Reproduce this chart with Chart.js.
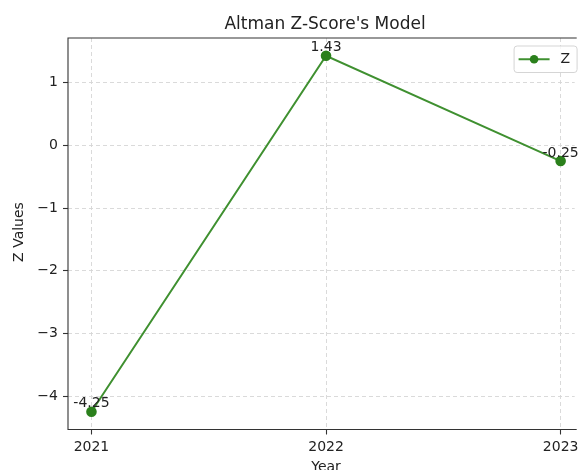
<!DOCTYPE html>
<html>
<head>
<meta charset="utf-8">
<script src="https://cdn.jsdelivr.net/npm/chart.js@4"></script>
<style>
    html, body { margin: 0; padding: 0; overflow: hidden; background: #fff; }
</style>
</head>
<body>
<canvas id="z-chart" width="581" height="470"></canvas>
<script>
// ===== DATA =====
const years = [2021, 2022, 2023];
const zValues = [-4.25, 1.43, -0.25];
const yTicks = [-4, -3, -2, -1, 0, 1];
const seriesLabel = 'Z';
const chartTitle = "Altman Z-Score's Model";
const xTitle = 'Year';
const yTitle = 'Z Values';

const FONT = "'DejaVu Sans', sans-serif";
const LINE_COLOR = '#3f9030';
const MARKER_COLOR = '#2b801c';

// matplotlib-like 5% margins; the full axes run to 2023.1 but the
// window crops them a little before that, so the scale stops at the crop
const yMin = -4.534, yMax = 1.714;
const xMin = 2020.9, xFullMax = 2023.1, xMax = 2023.06;

const extrasPlugin = {
    id: 'extras',
    afterDraw(chart) {
        const ctx = chart.ctx;
        const area = chart.chartArea;
        const xs = chart.scales.x;
        const meta = chart.getDatasetMeta(0);
        const midX = xs.getPixelForValue((xMin + xFullMax) / 2);
        const fullRight = xs.getPixelForValue(xFullMax);
        ctx.save();

        // spines: top, left, bottom
        ctx.strokeStyle = '#333';
        ctx.lineWidth = 1.1;
        ctx.beginPath();
        ctx.moveTo(area.right + 2, area.top);
        ctx.lineTo(area.left, area.top);
        ctx.lineTo(area.left, area.bottom);
        ctx.lineTo(area.right + 2, area.bottom);
        ctx.stroke();

        // title
        ctx.fillStyle = '#222';
        ctx.font = `17px ${FONT}`;
        ctx.textAlign = 'center';
        ctx.textBaseline = 'alphabetic';
        ctx.fillText(chartTitle, midX - 1, 29);

        // axis titles
        ctx.font = `14px ${FONT}`;
        ctx.textBaseline = 'middle';
        ctx.fillText(xTitle, midX, 467);
        ctx.save();
        ctx.translate(19, 232);
        ctx.rotate(-Math.PI / 2);
        ctx.fillText(yTitle, 0, 0);
        ctx.restore();

        // value labels
        meta.data.forEach((pt, i) => {
            ctx.fillText(zValues[i].toFixed(2), pt.x, pt.y - 8);
        });

        // legend (upper right of the full axes)
        const lx = fullRight - 70, ly = area.top + 8, lw = 63, lh = 26.5;
        ctx.fillStyle = 'rgba(255,255,255,0.8)';
        ctx.strokeStyle = '#d5d5d5';
        ctx.lineWidth = 1;
        ctx.beginPath();
        ctx.roundRect(lx, ly, lw, lh, 3);
        ctx.fill();
        ctx.stroke();
        const cy = ly + lh / 2;
        ctx.strokeStyle = LINE_COLOR;
        ctx.lineWidth = 2;
        ctx.beginPath();
        ctx.moveTo(lx + 4.5, cy);
        ctx.lineTo(lx + 35.5, cy);
        ctx.stroke();
        ctx.fillStyle = MARKER_COLOR;
        ctx.beginPath();
        ctx.arc(lx + 20, cy, 4.3, 0, Math.PI * 2);
        ctx.fill();
        ctx.fillStyle = '#222';
        ctx.textAlign = 'left';
        ctx.fillText(seriesLabel, lx + 46.5, cy);

        ctx.restore();
    }
};

const ctx = document.getElementById('z-chart');
new Chart(ctx, {
    type: 'line',
    data: {
        datasets: [{
            label: seriesLabel,
            data: years.map((y, i) => ({ x: y, y: zValues[i] })),
            borderColor: LINE_COLOR,
            backgroundColor: MARKER_COLOR,
            pointBackgroundColor: MARKER_COLOR,
            pointBorderColor: MARKER_COLOR,
            pointRadius: 4.3,
            borderWidth: 2,
            tension: 0,
            fill: false,
            clip: false
        }]
    },
    options: {
        responsive: false,
        animation: false,
        layout: { padding: { top: 38, right: 0, left: 0, bottom: 0 } },
        plugins: {
            legend: { display: false },
            title: { display: false },
            tooltip: { enabled: false }
        },
        scales: {
            x: {
                type: 'linear',
                min: xMin, max: xMax,
                afterBuildTicks: (scale) => { scale.ticks = years.map(v => ({ value: v })); },
                afterFit: (scale) => {
                    scale.height = 40.5;
                    scale.paddingLeft = 0;
                    scale.paddingRight = 0;
                },
                ticks: {
                    color: '#222',
                    font: { family: FONT, size: 14 },
                    padding: 4,
                    maxRotation: 0,
                    callback: (v) => String(v)
                },
                grid: {
                    color: '#d6d6d6',
                    lineWidth: 0.9,
                    tickLength: 5,
                    tickColor: '#333',
                    tickWidth: 1.1,
                    tickBorderDash: []
                },
                border: { display: false, dash: [4, 3] }
            },
            y: {
                min: yMin, max: yMax,
                afterBuildTicks: (scale) => { scale.ticks = yTicks.map(v => ({ value: v })); },
                afterFit: (scale) => { scale.width = 68; },
                ticks: {
                    color: '#222',
                    font: { family: FONT, size: 14 },
                    padding: 5,
                    callback: (v) => (v < 0 ? '\u2212' + Math.abs(v) : String(v))
                },
                grid: {
                    color: '#d6d6d6',
                    lineWidth: 0.9,
                    tickLength: 5,
                    tickColor: '#333',
                    tickWidth: 1.1,
                    tickBorderDash: []
                },
                border: { display: false, dash: [4, 3] }
            }
        }
    },
    plugins: [extrasPlugin]
});
</script>
</body>
</html>
